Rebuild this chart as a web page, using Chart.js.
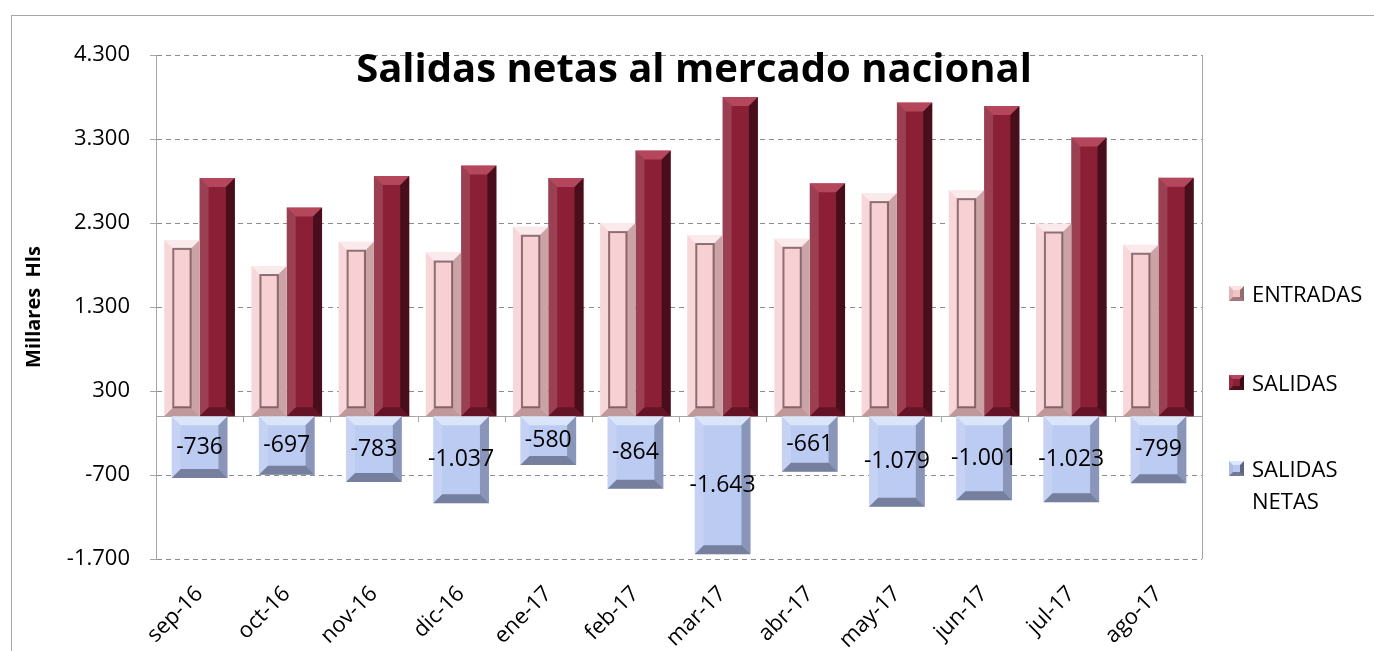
<!DOCTYPE html>
<html>
<head>
<meta charset="utf-8">
<script src="https://cdn.jsdelivr.net/npm/chart.js@4.4.1/dist/chart.umd.min.js"></script>
<style>
  html, body { margin: 0; padding: 0; background: #fff; }
  #wrap { position: relative; width: 1374px; height: 651px; overflow: hidden; font-family: "Open Sans", sans-serif; }
  #frame { position: absolute; left: 11px; top: 15px; width: 1400px; height: 700px;
           border-left: 1px solid #a6a6a6; border-top: 1px solid #a6a6a6; }
  #chart { position: absolute; left: 0; top: 0; }
  .lg { position: absolute; left: 1229px; font-size: 22px; line-height: 32px; color: #000; }
  .lg span { display: block; padding-left: 23px; }
  .lg i { position: absolute; left: 0; top: 9px; width: 7px; height: 7px; border: 4px solid; }
</style>
</head>
<body>
<div id="wrap">
  <div id="frame"></div>
  <canvas id="chart" width="1374" height="651"></canvas>
  <div class="lg" style="top:277px"><i style="border-color:#fbe3e5 #8f6c70 #a3797d #e2b5b9;background:#f1c4c8"></i><span>ENTRADAS</span></div>
  <div class="lg" style="top:366px"><i style="border-color:#b4485e #3a0b15 #4c0f1c #9a2a41;background:#8a1f36"></i><span>SALIDAS</span></div>
  <div class="lg" style="top:452px"><i style="border-color:#dfe8ff #5d6680 #6f7a96 #aebde6;background:#b9c8f0"></i><span>SALIDAS<br>NETAS</span></div>
</div>
<script>
// datos (miles de hl)
const meses = ['sep-16', 'oct-16', 'nov-16', 'dic-16', 'ene-17', 'feb-17', 'mar-17', 'abr-17', 'may-17', 'jun-17', 'jul-17', 'ago-17'];
const entradas = [2099, 1788, 2077, 1948, 2255, 2299, 2157, 2112, 2656, 2691, 2294, 2041];
const salidas = [2835, 2485, 2860, 2985, 2835, 3163, 3800, 2773, 3735, 3692, 3317, 2840];
const salidasNetas = [-736, -697, -783, -1037, -580, -864, -1643, -661, -1079, -1001, -1023, -799];
const yTicks = [-1700, -700, 300, 1300, 2300, 3300, 4300];

const fmt = v => {
  const s = String(Math.abs(Math.round(v))).replace(/\B(?=(\d{3})+(?!\d))/g, '.');
  return (v < 0 ? '-' : '') + s;
};

// relieve tipo excel
const bevelStyle = [
  { hi: 'rgba(255,255,255,0.55)', lo: 'rgba(90,50,55,0.35)', side: 'rgba(120,80,85,0.35)', inner: 'rgba(110,75,80,0.75)' },
  { hi: 'rgba(230,120,140,0.45)', lo: 'rgba(30,0,8,0.35)', side: 'rgba(20,0,5,0.55)', inner: null },
  { hi: 'rgba(240,246,255,0.6)', lo: 'rgba(60,66,90,0.55)', side: 'rgba(60,70,100,0.4)', inner: null }
];

const poly = (ctx, pts, color) => {
  ctx.beginPath();
  ctx.moveTo(pts[0][0], pts[0][1]);
  pts.slice(1).forEach(p => ctx.lineTo(p[0], p[1]));
  ctx.closePath();
  ctx.fillStyle = color;
  ctx.fill();
};

const bevel = {
  id: 'bevel',
  beforeDatasetsDraw(chart) {
    const { ctx, chartArea: a } = chart;
    const y0 = chart.scales.y.getPixelForValue(0);
    const n = meses.length, w = (a.right - a.left) / n;
    ctx.save();
    ctx.strokeStyle = '#a6a6a6';
    ctx.lineWidth = 1;
    ctx.beginPath();
    ctx.moveTo(a.left, Math.round(y0) + 0.5);
    ctx.lineTo(a.right, Math.round(y0) + 0.5);
    for (let i = 1; i < n; i++) {
      const x = Math.round(a.left + i * w) + 0.5;
      ctx.moveTo(x, y0);
      ctx.lineTo(x, y0 + 6);
    }
    ctx.moveTo(Math.round(a.right) + 0.5, a.top);
    ctx.lineTo(Math.round(a.right) + 0.5, a.bottom);
    ctx.stroke();
    ctx.restore();
  },
  afterDatasetsDraw(chart) {
    const ctx = chart.ctx;
    ctx.save();
    chart.data.datasets.forEach((ds, di) => {
      const st = bevelStyle[di];
      chart.getDatasetMeta(di).data.forEach((bar, i) => {
        const { x, y, base, width } = bar.getProps(['x', 'y', 'base', 'width'], true);
        const l = x - width / 2, r = x + width / 2;
        const t = Math.min(y, base), b = Math.max(y, base);
        const s = Math.min(9, (b - t) / 2, width / 2);
        poly(ctx, [[l, t], [r, t], [r - s, t + s], [l + s, t + s]], st.hi);
        poly(ctx, [[l, b], [r, b], [r - s, b - s], [l + s, b - s]], st.lo);
        poly(ctx, [[l, t], [l + s, t + s], [l + s, b - s], [l, b]], 'rgba(255,255,255,0.15)');
        poly(ctx, [[r, t], [r - s, t + s], [r - s, b - s], [r, b]], st.side);
        if (st.inner) {
          ctx.strokeStyle = st.inner;
          ctx.lineWidth = 2;
          ctx.strokeRect(l + s, t + s, width - 2 * s, b - t - 2 * s);
        }
        if (di === 2) {
          ctx.fillStyle = '#000';
          ctx.font = '23px "Open Sans"';
          ctx.textAlign = 'center';
          ctx.textBaseline = 'middle';
          ctx.fillText(fmt(ds.data[i]), x, (t + b) / 2);
        }
      });
    });
    ctx.restore();
  },
  afterDraw(chart) {
    const { ctx, chartArea: a } = chart;
    ctx.save();
    ctx.fillStyle = '#000';
    ctx.font = 'bold 40px "Open Sans"';
    ctx.textAlign = 'center';
    ctx.textBaseline = 'middle';
    ctx.fillText('Salidas netas al mercado nacional', (a.left + a.right) / 2 + 15, a.top + 16);
    ctx.restore();
  }
};

new Chart(document.getElementById('chart'), {
  type: 'bar',
  data: {
    labels: meses,
    datasets: [
      { label: 'ENTRADAS', data: entradas, backgroundColor: '#f6d0d3',
        categoryPercentage: 0.81, barPercentage: 1 },
      { label: 'SALIDAS', data: salidas, backgroundColor: '#8a1f36',
        categoryPercentage: 0.81, barPercentage: 1 },
      { label: 'SALIDAS NETAS', data: salidasNetas, backgroundColor: '#bccbf2',
        grouped: false, barPercentage: 0.8 }
    ]
  },
  options: {
    responsive: false,
    animation: false,
    layout: { padding: { left: 22, top: 55, right: 172, bottom: 0 } },
    plugins: { legend: { display: false }, title: { display: false }, tooltip: { enabled: false } },
    scales: {
      x: {
        offset: true,
        grid: { display: false, drawTicks: false },
        border: { display: false },
        ticks: { color: '#000', font: { family: 'Open Sans', size: 22 }, minRotation: 45, maxRotation: 45, padding: 22 },
        afterFit: s => { s.height = 92; }
      },
      y: {
        min: -1700, max: 4300,
        afterBuildTicks: s => { s.ticks = yTicks.map(v => ({ value: v })); },
        afterFit: s => { s.width = 134; },
        grid: { color: '#8c8c8c', tickColor: '#a6a6a6', tickLength: 6 },
        border: { display: true, color: '#a6a6a6', dash: [5, 4] },
        ticks: { color: '#000', font: { family: 'Open Sans', size: 22 }, padding: 20, callback: v => fmt(v) },
        title: { display: true, text: 'Millares  Hls', color: '#000', font: { family: 'Open Sans', size: 20, weight: 'bold' }, padding: 0 }
      }
    }
  },
  plugins: [bevel]
});
</script>
</body>
</html>
